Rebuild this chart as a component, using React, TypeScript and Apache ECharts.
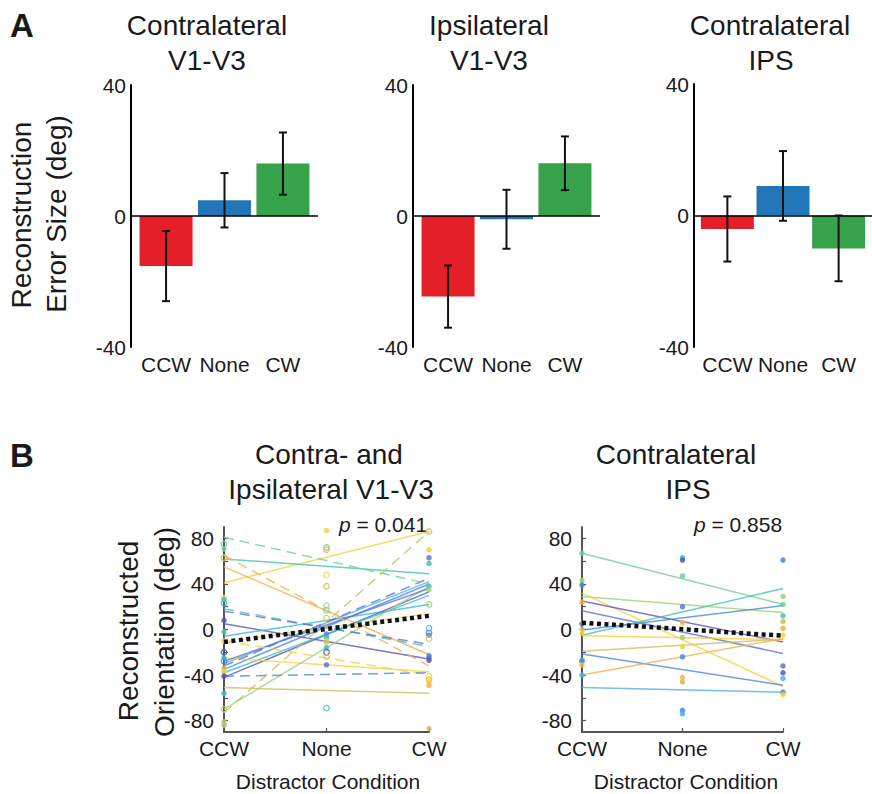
import React, { useEffect, useRef } from 'react';
import * as echarts from 'echarts';

// ---------- Panel A data ----------
const conditions = ['CCW', 'None', 'CW'];
const contraV1Mean = [-15.3, 4.8, 16.0];
const contraV1Err = [10.7, 8.3, 9.5];
const ipsiV1Mean = [-24.6, -1.0, 16.1];
const ipsiV1Err = [9.5, 9.0, 8.2];
const contraIpsMean = [-4.1, 9.0, -10.0];
const contraIpsErr = [9.9, 10.6, 10.0];
const barColors = ['#e41f27', '#2176b8', '#36a24a'];

// ---------- Panel B data ----------
const palette: Record<string, string> = {
  purple: '#5a57b5',
  bluepurple: '#6275d4',
  blue: '#4a8ad8',
  lightblue: '#4fb0e3',
  cyan: '#38bcd0',
  teal: '#49c3b3',
  mint: '#6fcf9e',
  lightgreen: '#a3cf78',
  olive: '#cbbf66',
  orange: '#f6b04a',
  yellow: '#f5d23c',
};

// Left (contra + ipsi V1-V3): fitted lines, CCW -> CW
const leftLineStart = [41, 62, 55, 5, -6, -42, -35, -30, -38, -25, -51, -70, -28, 81, 65, -73, 18, 16, -32, -10, -41, -11];
const leftLineEnd = [86, 49, -22, -26, 22, 33, 40, 42, 30, -37, -56, 38, 36, 40, -32, 86, -15, -13, 45, -40, -38, 14];
const leftLineColor = ['yellow', 'teal', 'orange', 'purple', 'cyan', 'purple', 'blue', 'lightblue', 'cyan', 'yellow', 'olive', 'lightgreen', 'bluepurple', 'mint', 'orange', 'olive', 'teal', 'bluepurple', 'bluepurple', 'yellow', 'blue', 'yellow'];
const leftLineDashed = [0, 0, 0, 0, 0, 0, 0, 0, 0, 0, 0, 0, 0, 1, 1, 1, 1, 1, 1, 1, 1, 1];
const leftMean = [-11, 12];

const leftDotsCCW = [75, 71, 63, 28, 26, 23, 8, -2, -10, -20, -25, -28, -34, -37, -41, -56, -70, -81, -84];
const leftDotsCCWColor = ['mint', 'mint', 'orange', 'yellow', 'cyan', 'teal', 'purple', 'teal', 'yellow', 'purple', 'cyan', 'blue', 'olive', 'yellow', 'purple', 'cyan', 'olive', 'olive', 'lightgreen'];
const leftDotsCCWOpen = [1, 0, 1, 0, 0, 1, 0, 0, 0, 1, 0, 1, 0, 0, 0, 0, 1, 0, 0];

const leftDotsNone = [92, 87, 72, 70, 48, 38, 21, 17, 10, -4, -7, -10, -11, -16, -20, -24, -31, -69];
const leftDotsNoneColor = ['lightblue', 'yellow', 'mint', 'orange', 'yellow', 'olive', 'lightgreen', 'mint', 'olive', 'blue', 'cyan', 'yellow', 'olive', 'cyan', 'purple', 'olive', 'bluepurple', 'lightblue'];
const leftDotsNoneOpen = [0, 0, 1, 1, 1, 1, 1, 1, 1, 0, 0, 0, 0, 0, 1, 1, 0, 1];

const leftDotsCW = [86, 70, 63, 58, 38, 35, 22, 1, -3, -5, -8, -23, -25, -27, -41, -44, -46, -49, -87];
const leftDotsCWColor = ['olive', 'yellow', 'bluepurple', 'teal', 'teal', 'lightgreen', 'lightgreen', 'lightblue', 'blue', 'blue', 'olive', 'blue', 'bluepurple', 'purple', 'yellow', 'orange', 'yellow', 'orange', 'olive'];
const leftDotsCWOpen = [1, 0, 0, 0, 0, 0, 1, 1, 1, 0, 1, 0, 0, 0, 1, 1, 0, 0, 0];

// Right (contra IPS)
const rightLineStart = [67, 29, 32, 25, 16.5, -5, -0.5, -5.5, -19, -21.5, -40, -51];
const rightLineEnd = [22, 15, -50, -11, -21, 36, 21, -9, -8.5, -49, -8, -55];
const rightLineColor = ['mint', 'lightgreen', 'yellow', 'purple', 'bluepurple', 'teal', 'blue', 'yellow', 'olive', 'blue', 'orange', 'lightblue'];
const rightMean = [6, -5.5];

const rightDotsCCW = [67, 43, 39, 24, 5, 0, -3, -27, -28, -31, -40];
const rightDotsCCWColor = ['mint', 'lightgreen', 'blue', 'orange', 'bluepurple', 'olive', 'yellow', 'cyan', 'blue', 'orange', 'lightblue'];
const rightDotsNone = [63, 61, 47, 20, 6, -7, -15, -24, -42, -46, -71, -74];
const rightDotsNoneColor = ['cyan', 'purple', 'mint', 'bluepurple', 'orange', 'lightgreen', 'yellow', 'blue', 'orange', 'olive', 'blue', 'lightblue'];
const rightDotsCW = [61, 29, 22, 12, 7, 1, -5, -32, -38, -43, -55, -57];
const rightDotsCWColor = ['blue', 'lightgreen', 'mint', 'teal', 'olive', 'orange', 'yellow', 'bluepurple', 'purple', 'lightblue', 'blue', 'yellow'];

const FONT = 'Liberation Sans, Arial, Helvetica, sans-serif';
const TXT = '#1a1a1a';

function barPanel(idx: number, mean: number[], err: number[]) {
  return [
    {
      type: 'bar',
      xAxisIndex: idx,
      yAxisIndex: idx,
      barWidth: 53,
      silent: true,
      z: 2,
      data: mean.map((v, i) => ({ value: [i + 1, v], itemStyle: { color: barColors[i] } })),
      markLine: {
        silent: true,
        symbol: ['none', 'none'],
        label: { show: false },
        lineStyle: { color: '#000', width: 1.6, type: 'solid' },
        data: [{ yAxis: 0 }],
        z: 4,
      },
    },
    {
      type: 'custom',
      xAxisIndex: idx,
      yAxisIndex: idx,
      silent: true,
      z: 5,
      encode: { x: 0, y: [1, 2] },
      data: mean.map((v, i) => [i + 1, v - err[i], v + err[i]]),
      renderItem: (params: any, api: any) => {
        const x = api.value(0);
        const lo = api.coord([x, api.value(1)]);
        const hi = api.coord([x, api.value(2)]);
        const st = { stroke: '#111', lineWidth: 2 };
        return {
          type: 'group',
          children: [
            { type: 'line', shape: { x1: lo[0], y1: lo[1], x2: hi[0], y2: hi[1] }, style: st },
            { type: 'line', shape: { x1: lo[0] - 4, y1: lo[1], x2: lo[0] + 4, y2: lo[1] }, style: st },
            { type: 'line', shape: { x1: hi[0] - 4, y1: hi[1], x2: hi[0] + 4, y2: hi[1] }, style: st },
          ],
        };
      },
    },
  ];
}

function linesSeries(idx: number, start: number[], end: number[], colors: string[], dashed: number[] | null) {
  return start.map((s, i) => ({
    type: 'line',
    xAxisIndex: idx,
    yAxisIndex: idx,
    silent: true,
    symbol: 'none',
    z: 2,
    data: [[0, s], [2, end[i]]],
    lineStyle: {
      color: palette[colors[i]],
      width: 1.5,
      opacity: 0.8,
      type: dashed && dashed[i] ? [10, 6] : 'solid',
    },
  }));
}

function dotItems(x: number, vals: number[], colors: string[], open: number[] | null) {
  return vals.map((v, i) => {
    const c = palette[colors[i]];
    const isOpen = open ? open[i] === 1 : false;
    return {
      value: [x, v],
      itemStyle: isOpen
        ? { color: 'rgba(255,255,255,0)', borderColor: c, borderWidth: 1.3, opacity: 0.85 }
        : { color: c, opacity: 0.85 },
    };
  });
}

function meanSeries(idx: number, m: number[]) {
  return {
    type: 'line',
    xAxisIndex: idx,
    yAxisIndex: idx,
    silent: true,
    symbol: 'none',
    z: 6,
    data: [[0, m[0]], [2, m[1]]],
    lineStyle: { color: '#111', width: 4.5, type: [4, 3.5] },
  };
}

const aYAxis = (idx: number) => ({
  type: 'value',
  gridIndex: idx,
  min: -40,
  max: 40,
  interval: 40,
  axisLine: { show: true, lineStyle: { color: '#000', width: 2 } },
  axisTick: { show: false },
  splitLine: { show: false },
  axisLabel: { fontSize: 21, color: TXT, margin: 5, fontFamily: FONT },
});
const aXAxis = (idx: number) => ({
  type: 'value',
  gridIndex: idx,
  min: 0.4,
  max: 3.6,
  axisLine: { show: false },
  axisTick: { show: false },
  splitLine: { show: false },
  axisLabel: {
    customValues: [1, 2, 3],
    formatter: (v: number) => conditions[Math.round(v) - 1] || '',
    fontSize: 21,
    color: TXT,
    margin: 7,
    fontFamily: FONT,
  },
});
const bYAxis = (idx: number) => ({
  type: 'value',
  gridIndex: idx,
  min: -90,
  max: 90,
  axisLine: { show: true, onZero: false, lineStyle: { color: '#555', width: 2 } },
  axisTick: { show: true, inside: true, length: 4, customValues: [-80, -60, -40, -20, 0, 20, 40, 60, 80], lineStyle: { color: '#555', width: 1.2 } },
  splitLine: { show: false },
  axisLabel: { customValues: [-80, -40, 0, 40, 80], fontSize: 21, color: TXT, margin: 10, fontFamily: FONT },
});
const bXAxis = (idx: number) => ({
  type: 'value',
  gridIndex: idx,
  min: 0,
  max: 2,
  interval: 1,
  axisLine: { show: true, onZero: false, lineStyle: { color: '#555', width: 2 } },
  axisTick: { show: true, inside: true, length: 4, lineStyle: { color: '#555', width: 1.2 } },
  splitLine: { show: false },
  axisLabel: {
    formatter: (v: number) => conditions[Math.round(v)] || '',
    fontSize: 21,
    color: TXT,
    margin: 6,
    fontFamily: FONT,
  },
});

function txt(text: string, x: number, y: number, size: number, extra: any = {}) {
  return {
    type: 'text',
    x,
    y,
    rotation: extra.rotation || 0,
    silent: true,
    style: {
      text,
      fill: TXT,
      fontSize: size,
      fontFamily: FONT,
      fontWeight: extra.bold ? 'bold' : 'normal',
      align: 'center',
      verticalAlign: 'middle',
      rich: extra.rich,
    },
  };
}

export default function App() {
  const ref = useRef<HTMLDivElement>(null);
  useEffect(() => {
    if (!ref.current) return;
    const chart = echarts.init(ref.current, null, { renderer: 'svg' });
    const rot = Math.PI / 2;
    const pRich = { i: { fontStyle: 'italic', fontSize: 21, fontFamily: FONT, fill: TXT } };
    const option: any = {
      animation: false,
      backgroundColor: '#fff',
      textStyle: { fontFamily: FONT },
      grid: [
        { left: 131, top: 85, width: 187, height: 262 },
        { left: 413, top: 85, width: 187, height: 262 },
        { left: 694, top: 84, width: 187, height: 263 },
        { left: 224, top: 527, width: 205, height: 205 },
        { left: 582, top: 527, width: 201, height: 205 },
      ],
      xAxis: [aXAxis(0), aXAxis(1), aXAxis(2), bXAxis(3), bXAxis(4)],
      yAxis: [aYAxis(0), aYAxis(1), aYAxis(2), bYAxis(3), bYAxis(4)],
      series: [
        ...barPanel(0, contraV1Mean, contraV1Err),
        ...barPanel(1, ipsiV1Mean, ipsiV1Err),
        ...barPanel(2, contraIpsMean, contraIpsErr),
        ...linesSeries(3, leftLineStart, leftLineEnd, leftLineColor, leftLineDashed),
        {
          type: 'scatter',
          xAxisIndex: 3,
          yAxisIndex: 3,
          silent: true,
          symbolSize: 5.5,
          z: 3,
          data: [
            ...dotItems(0, leftDotsCCW, leftDotsCCWColor, leftDotsCCWOpen),
            ...dotItems(1, leftDotsNone, leftDotsNoneColor, leftDotsNoneOpen),
            ...dotItems(2, leftDotsCW, leftDotsCWColor, leftDotsCWOpen),
          ],
        },
        meanSeries(3, leftMean),
        ...linesSeries(4, rightLineStart, rightLineEnd, rightLineColor, null),
        {
          type: 'scatter',
          xAxisIndex: 4,
          yAxisIndex: 4,
          silent: true,
          symbolSize: 5.5,
          z: 3,
          data: [
            ...dotItems(0, rightDotsCCW, rightDotsCCWColor, null),
            ...dotItems(1, rightDotsNone, rightDotsNoneColor, null),
            ...dotItems(2, rightDotsCW, rightDotsCWColor, null),
          ],
        },
        meanSeries(4, rightMean),
      ],
      graphic: [
        txt('A', 22, 25, 33, { bold: true }),
        txt('B', 22, 455, 33, { bold: true }),
        txt('Contralateral', 207, 25, 28),
        txt('V1-V3', 207, 60, 28),
        txt('Ipsilateral', 489, 25, 28),
        txt('V1-V3', 489, 60, 28),
        txt('Contralateral', 770, 25, 28),
        txt('IPS', 771, 60, 28),
        txt('Reconstruction', 21, 215, 28, { rotation: rot }),
        txt('Error Size (deg)', 56, 214, 28, { rotation: rot }),
        txt('Contra- and', 329, 454, 28),
        txt('Ipsilateral V1-V3', 331, 489, 28),
        txt('Contralateral', 676, 454, 28),
        txt('IPS', 688, 489, 28),
        txt('Reconstructed', 128, 631, 28, { rotation: rot }),
        txt('Orientation (deg)', 164, 632, 28, { rotation: rot }),
        txt('{i|p} = 0.041', 383, 524, 21, { rich: pRich }),
        txt('{i|p} = 0.858', 738, 524, 21, { rich: pRich }),
        txt('Distractor Condition', 328, 781, 21),
        txt('Distractor Condition', 686, 781, 21),
      ],
    };
    chart.setOption(option);
    return () => chart.dispose();
  }, []);
  return (
    <div
      ref={ref}
      style={{ position: 'fixed', left: 0, top: 0, width: 872, height: 794, background: '#fff' }}
    />
  );
}
